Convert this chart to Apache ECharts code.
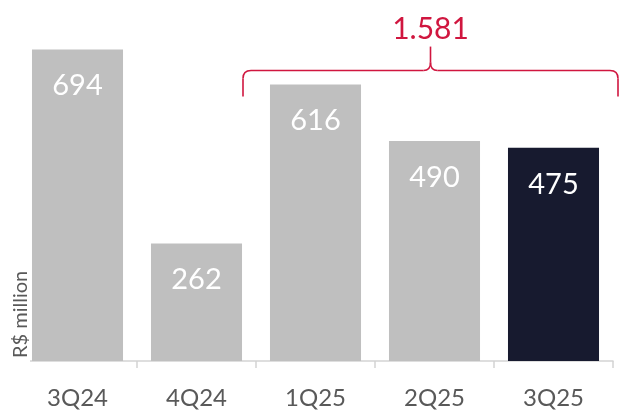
<!DOCTYPE html>
<html>
<head>
<meta charset="utf-8">
<script src="https://cdn.jsdelivr.net/npm/echarts@6/dist/echarts.min.js"></script>
<style>
  html, body { margin: 0; padding: 0; background: #fff; }
  #chart { width: 620px; height: 410px; }
</style>
</head>
<body>
<div id="chart"></div>
<script>
// Quarterly figures, R$ million
const quarters = ['3Q24', '4Q24', '1Q25', '2Q25', '3Q25'];
const amounts = [694, 262, 616, 490, 475];
const currentIndex = 4;          // latest quarter, drawn in dark navy
const groupStart = 2;            // bracketed range: 1Q25 .. 3Q25
const groupEnd = 4;

const GRAY = '#bfbfbf';
const NAVY = '#171a2f';
const RED = '#d0163f';
const FONT = 'Lato, "Open Sans", sans-serif';

const chart = echarts.init(document.getElementById('chart'));

chart.setOption({
  animation: false,
  grid: { left: 18, right: 7, top: 2, bottom: 48 },
  xAxis: {
    type: 'category',
    data: quarters,
    axisLine: { lineStyle: { color: '#d4d4d4', width: 1.5 } },
    axisTick: { show: true, length: 7, lineStyle: { color: '#d4d4d4', width: 1.5 } },
    axisLabel: { color: '#595959', fontSize: 24, fontFamily: FONT, margin: 25 }
  },
  yAxis: {
    type: 'value',
    min: 0,
    max: 800,
    show: false
  },
  series: [{
    type: 'bar',
    barCategoryGap: '23.5%',
    data: amounts.map((v, i) => ({
      value: v,
      itemStyle: { color: i === currentIndex ? NAVY : GRAY }
    })),
    label: {
      show: true,
      position: 'insideTop',
      distance: 22,
      color: '#ffffff',
      fontSize: 29,
      fontFamily: FONT
    }
  }]
});

// Bracket over the grouped quarters with their total above it
function drawBracket() {
  const cx = i => chart.convertToPixel({ xAxisIndex: 0 }, quarters[i]);
  const band = cx(1) - cx(0);
  const L = cx(groupStart) - band / 2 - 13;
  const R = cx(groupEnd) + band / 2 + 5;
  const C = (L + R) / 2;
  const groupVals = amounts.slice(groupStart, groupEnd + 1);
  const top = chart.convertToPixel({ yAxisIndex: 0 }, Math.max(...groupVals)) - 14;
  const total = groupVals.reduce((a, b) => a + b, 0);
  const totalText = String(total).replace(/\B(?=(\d{3})+(?!\d))/g, '.');
  const baseY = chart.convertToPixel({ yAxisIndex: 0 }, 0);

  const stroke = { fill: null, stroke: RED, lineWidth: 1.6 };
  const line = (x1, y1, x2, y2) => ({ type: 'line', shape: { x1, y1, x2, y2 }, style: stroke });
  const curve = (x1, y1, cpx1, cpy1, x2, y2) => ({
    type: 'bezierCurve', shape: { x1, y1, cpx1, cpy1, x2, y2 }, style: stroke
  });

  chart.setOption({
    graphic: [
      line(L, top + 26, L, top + 8),
      curve(L, top + 8, L, top, L + 8, top),
      line(L + 8, top, C - 7, top),
      curve(C - 7, top, C, top, C, top - 8),
      line(C, top - 8, C, top - 24),
      curve(C, top - 8, C, top, C + 7, top),
      line(C + 7, top, R - 8, top),
      curve(R - 8, top, R, top, R, top + 8),
      line(R, top + 8, R, top + 26),
      {
        type: 'text',
        x: C,
        y: top - 41,
        style: {
          text: totalText,
          fill: RED,
          font: '30px ' + FONT,
          textAlign: 'center',
          textVerticalAlign: 'middle'
        }
      },
      // axis line begins after the unit label
      {
        type: 'rect',
        z: 5,
        shape: { x: 14, y: baseY - 4, width: 16, height: 14 },
        style: { fill: '#ffffff' }
      },
      {
        type: 'text',
        z: 6,
        x: 21,
        y: baseY - 3,
        rotation: Math.PI / 2,
        style: {
          text: 'R$ million',
          fill: '#595959',
          font: '20px ' + FONT,
          textAlign: 'left',
          textVerticalAlign: 'middle'
        }
      }
    ]
  });
}
drawBracket();
</script>
</body>
</html>
